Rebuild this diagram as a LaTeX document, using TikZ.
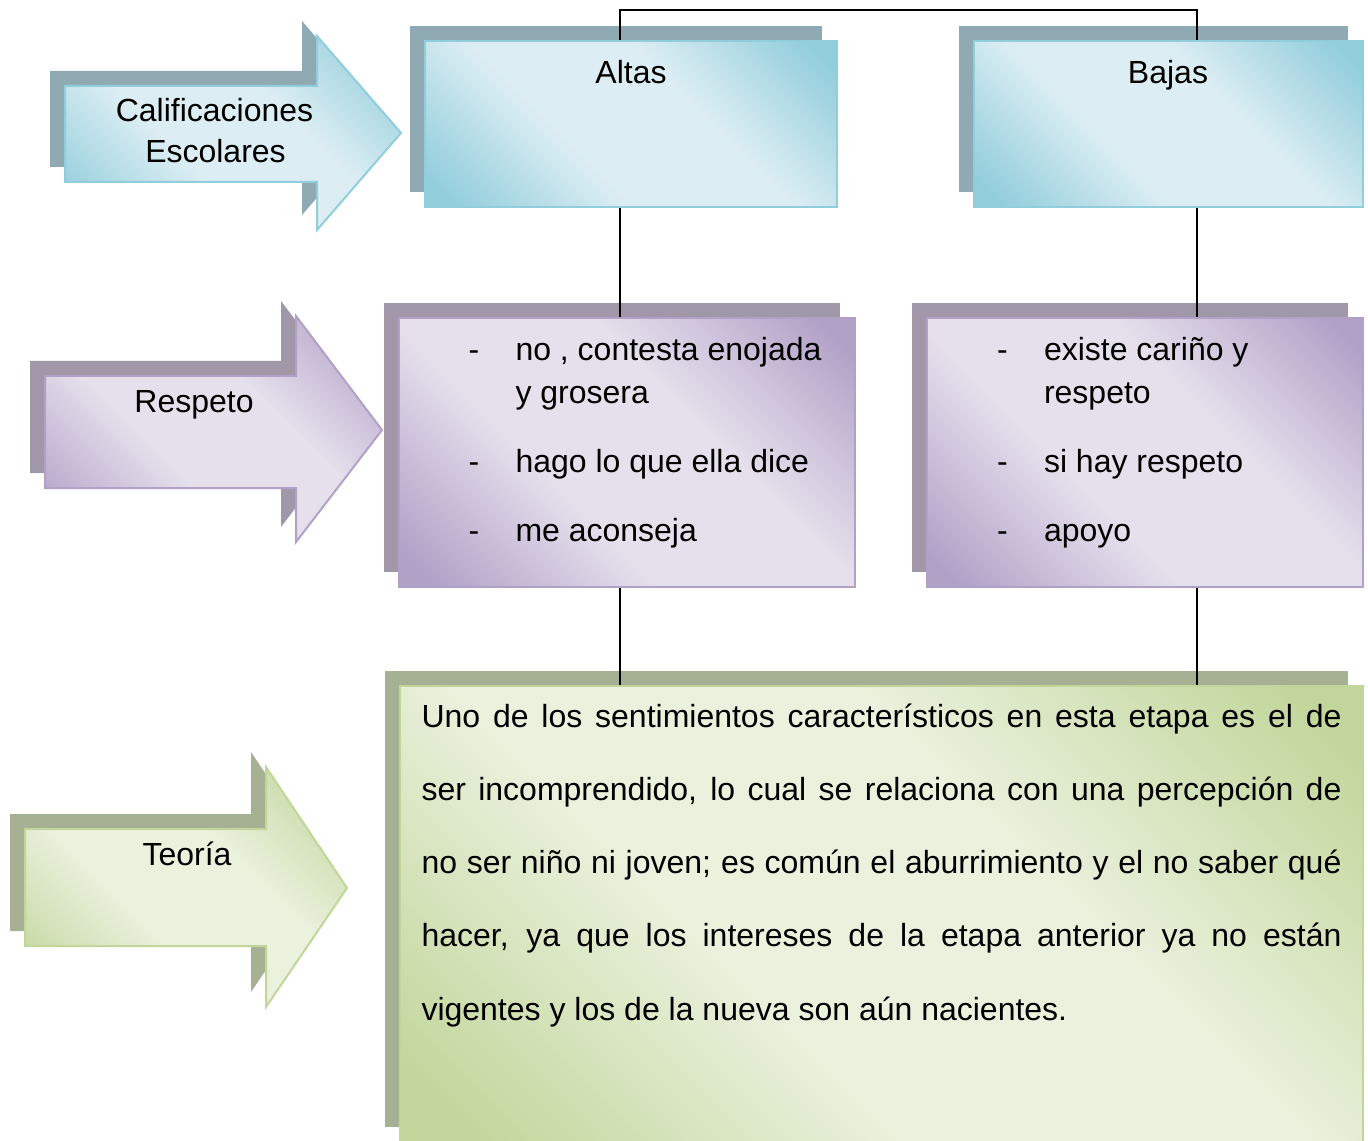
\documentclass[tikz,border=0pt]{standalone}
\usepackage{fontspec}
\setmainfont{Liberation Sans}
\usetikzlibrary{shadows}

\definecolor{bluedk}{HTML}{92CDDC}
\definecolor{bluelt}{HTML}{DCEEF3}
\definecolor{blueshd}{HTML}{8FAAB2}
\definecolor{purpdk}{HTML}{B2A1C7}
\definecolor{purplt}{HTML}{E5E0EC}
\definecolor{purpshd}{HTML}{A098A8}
\definecolor{greendk}{HTML}{C2D69B}
\definecolor{greenlt}{HTML}{EAF1DD}
\definecolor{greenshd}{HTML}{A6B092}

\pgfdeclarehorizontalshading{blueshade}{100bp}{color(0bp)=(bluedk); color(18bp)=(bluedk); color(40bp)=(bluelt); color(60bp)=(bluelt); color(82bp)=(bluedk); color(100bp)=(bluedk)}
\pgfdeclarehorizontalshading{purpshade}{100bp}{color(0bp)=(purpdk); color(18bp)=(purpdk); color(40bp)=(purplt); color(60bp)=(purplt); color(82bp)=(purpdk); color(100bp)=(purpdk)}
\pgfdeclarehorizontalshading{greenshade}{100bp}{color(0bp)=(greendk); color(18bp)=(greendk); color(40bp)=(greenlt); color(60bp)=(greenlt); color(82bp)=(greendk); color(100bp)=(greendk)}

\tikzset{every picture/.style={line width=0.75pt}}
\tikzset{
  blueshape/.style={shade, shading=blueshade, shading angle=45, draw=bluedk, line width=1.5pt,
    general shadow={fill=blueshd, shadow xshift=-11.25pt, shadow yshift=11.25pt}},
  purpshape/.style={shade, shading=purpshade, shading angle=45, draw=purpdk, line width=1.5pt,
    general shadow={fill=purpshd, shadow xshift=-11.25pt, shadow yshift=11.25pt}},
  greenshape/.style={shade, shading=greenshade, shading angle=45, draw=greendk, line width=1.5pt,
    general shadow={fill=greenshd, shadow xshift=-11.25pt, shadow yshift=11.25pt}},
  box/.style={rectangle, inner sep=0pt},
  lbl/.style={font=\fontsize{24}{28.8}\selectfont, inner sep=0pt},
  link/.style={line width=1.5pt},
}

\begin{document}
\begin{tikzpicture}[x=0.75pt,y=0.75pt,yscale=-1,xscale=1]
\useasboundingbox (0,0) rectangle (1368,1141);

% arrows on the left
\draw [blueshape] (65,86) -- (317,86) -- (317,36) -- (401,133) -- (317,230) -- (317,182) -- (65,182) -- cycle ;
\draw [purpshape] (45,376) -- (296,376) -- (296,316) -- (382,430) -- (296,542) -- (296,488) -- (45,488) -- cycle ;
\draw [greenshape] (25,829) -- (266,829) -- (266,767) -- (347,888) -- (266,1007) -- (266,946) -- (25,946) -- cycle ;

% boxes
\node [box, blueshape, minimum width=309pt, minimum height=124.5pt] (altas) at (631,124) {};
\node [box, blueshape, minimum width=291.75pt, minimum height=124.5pt] (bajas) at (1168.5,124) {};
\node [box, purpshape, minimum width=342pt, minimum height=201.75pt] (respA) at (627,452.5) {};
\node [box, purpshape, minimum width=327pt, minimum height=201.75pt] (respB) at (1145,452.5) {};
\node [box, greenshape, minimum width=722.25pt, minimum height=342pt] (teoria) at (881.5,914) {};

% connectors
\coordinate (colA) at (620,10);
\coordinate (colB) at (1197,10);
\draw [link] (altas.north -| colA) -- (colA) -- (colB) -- (bajas.north -| colB) ;
\draw [link] (altas.south -| colA) -- (respA.north -| colA) ;
\draw [link] (bajas.south -| colB) -- (respB.north -| colB) ;
\draw [link] (respA.south -| colA) -- (teoria.north -| colA) ;
\draw [link] (respB.south -| colB) -- (teoria.north -| colB) ;

% labels
\node [lbl, anchor=base] (calif1) at (214.5,122) {Calificaciones};
\node [lbl, anchor=base] (calif2) at (215.5,163) {Escolares};
\node [lbl, anchor=base] (respeto) at (194,412) {Respeto};
\node [lbl, anchor=base] (teorialbl) at (187,865) {Teoría};
\node [lbl, anchor=base] (altaslbl) at (631,84) {Altas};
\node [lbl, anchor=base] (bajaslbl) at (1168,84) {Bajas};

% items
\node [lbl, anchor=base west] (dA1) at (468,361) {-};
\node [lbl, anchor=base west] (dA2) at (468,472) {-};
\node [lbl, anchor=base west] (dA3) at (468,541) {-};
\node [lbl, anchor=base west] (itA1) at (515,361) {no , contesta enojada};
\node [lbl, anchor=base west] (itA1b) at (515,403) {y grosera};
\node [lbl, anchor=base west] (itA2) at (515,472) {hago lo que ella dice};
\node [lbl, anchor=base west] (itA3) at (515,541) {me aconseja};
\node [lbl, anchor=base west] (dB1) at (996.5,361) {-};
\node [lbl, anchor=base west] (dB2) at (996.5,472) {-};
\node [lbl, anchor=base west] (dB3) at (996.5,541) {-};
\node [lbl, anchor=base west] (itB1) at (1043.5,361) {existe cariño y};
\node [lbl, anchor=base west] (itB1b) at (1043.5,403) {respeto};
\node [lbl, anchor=base west] (itB2) at (1043.5,472) {si hay respeto};
\node [lbl, anchor=base west] (itB3) at (1043.5,541) {apoyo};

% paragraph
\node [lbl, anchor=base west] (par1) at (421,727) {\makebox[690pt][s]{Uno de los sentimientos característicos en esta etapa es el de}};
\node [lbl, anchor=base west] (par2) at (421,800.3) {\makebox[690pt][s]{ser incomprendido, lo cual se relaciona con una percepción de}};
\node [lbl, anchor=base west] (par3) at (421,873.5) {\makebox[690pt][s]{no ser niño ni joven; es común el aburrimiento y el no saber qué}};
\node [lbl, anchor=base west] (par4) at (421,946.8) {\makebox[690pt][s]{hacer, ya que los intereses de la etapa anterior ya no están}};
\node [lbl, anchor=base west] (par5) at (421,1020) {vigentes y los de la nueva son aún nacientes.};

\end{tikzpicture}
\end{document}
